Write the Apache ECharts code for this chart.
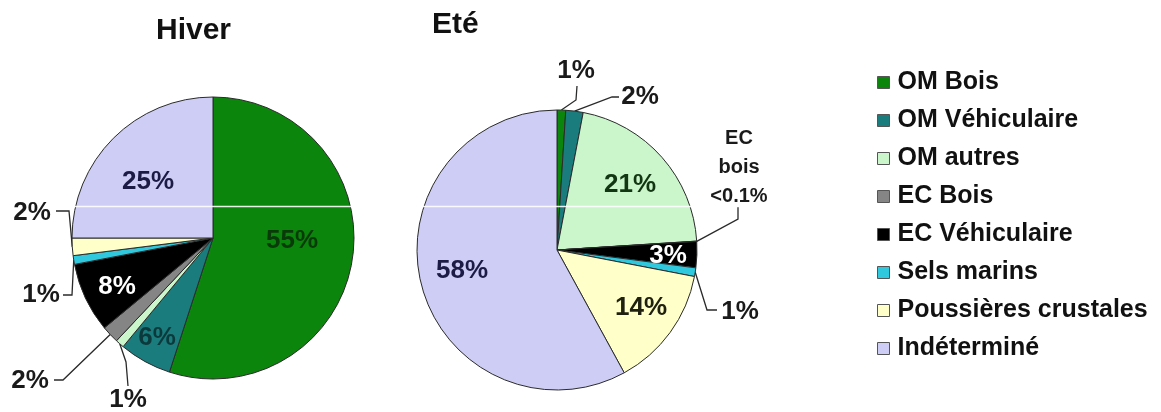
<!DOCTYPE html>
<html>
<head>
<meta charset="utf-8">
<style>
  html, body { margin: 0; padding: 0; background: #ffffff; }
  #chart { width: 1161px; height: 412px; }
</style>
<script src="https://cdn.jsdelivr.net/npm/echarts@6/dist/echarts.min.js"></script>
</head>
<body>
<div id="chart"></div>
<script>
// Aerosol source apportionment, winter vs summer (share of PM, %)
const categories = [
  'OM Bois', 'OM Véhiculaire', 'OM autres', 'EC Bois',
  'EC Véhiculaire', 'Sels marins', 'Poussières crustales', 'Indéterminé'
];
const hiverValues = [55, 6, 1, 2, 8, 1, 2, 25];
const eteValues = [1, 2, 21, 0.05, 3, 1, 14, 58];
const hiverLabels = ['55%', '6%', '1%', '2%', '8%', '1%', '2%', '25%'];
const eteLabels = ['1%', '2%', '21%', 'EC\nbois\n<0.1%', '3%', '1%', '14%', '58%'];

const colors = ['#0b850b', '#1b7c7e', '#cbf5cb', '#858585', '#000000', '#2fc8dc', '#ffffc9', '#cdcdf6'];
const FONT = '"Liberation Sans", Arial, sans-serif';

// Label placement: text centre and, for outside labels, the bend points of the leader line
const hiverLabelLayout = [
  { x: 292, y: 241, color: '#0a3a0a' },
  { x: 157, y: 338, color: '#0c3a3c' },
  { x: 128, y: 400, color: '#1a1a1a', line: [[126, 362], [128, 386]] },
  { x: 30, y: 381, color: '#1a1a1a', line: [[63, 380], [54, 380]] },
  { x: 117, y: 287, color: '#ffffff' },
  { x: 41, y: 295, color: '#1a1a1a', line: [[72, 295], [63, 295]] },
  { x: 32, y: 213, color: '#1a1a1a', line: [[69, 211], [56, 211]] },
  { x: 148, y: 182, color: '#1b1b45' }
];
const eteLabelLayout = [
  { x: 576, y: 71, color: '#1a1a1a', line: [[576, 100], [577, 86]] },
  { x: 640, y: 97, color: '#1a1a1a', line: [[612, 97], [619, 97]] },
  { x: 630, y: 185, color: '#123612' },
  { x: 739, y: 167, color: '#1a1a1a', small: true, line: [[738, 219], [738, 207]] },
  { x: 668, y: 256, color: '#ffffff' },
  { x: 740, y: 312, color: '#1a1a1a', line: [[707, 310], [717, 310]] },
  { x: 641, y: 308, color: '#202010' },
  { x: 462, y: 271, color: '#1b1b45' }
];

function buildData(values, texts, layout) {
  return categories.map((name, i) => ({
    name: name,
    value: values[i],
    itemStyle: { color: colors[i] },
    label: {
      formatter: texts[i],
      color: layout[i].color,
      fontSize: layout[i].small ? 20 : 26,
      lineHeight: layout[i].small ? 29 : 30
    },
    labelLine: { show: !!layout[i].line }
  }));
}

function labelLayoutFor(layout) {
  return function (params) {
    const cfg = layout[params.dataIndex];
    const out = { x: cfg.x, y: cfg.y, align: 'center', verticalAlign: 'middle' };
    if (cfg.line && params.labelLinePoints) {
      out.labelLinePoints = [params.labelLinePoints[0]].concat(cfg.line);
    }
    return out;
  };
}

function pieSeries(name, center, radius, values, texts, layout) {
  return {
    name: name,
    type: 'pie',
    center: center,
    radius: radius,
    startAngle: 90,
    clockwise: true,
    avoidLabelOverlap: false,
    animation: false,
    itemStyle: { borderColor: '#2b2b2b', borderWidth: 1 },
    label: {
      show: true,
      position: 'outside',
      fontFamily: FONT,
      fontWeight: 'bold'
    },
    labelLine: {
      show: true,
      length: 10,
      length2: 10,
      lineStyle: { color: '#2a2a2a', width: 1.3 }
    },
    labelLayout: labelLayoutFor(layout),
    emphasis: { disabled: true },
    data: buildData(values, texts, layout)
  };
}

const chart = echarts.init(document.getElementById('chart'), null, { renderer: 'canvas' });
chart.setOption({
  backgroundColor: '#ffffff',
  animation: false,
  title: [
    { text: 'Hiver', left: 156, top: 16, padding: 0,
      textStyle: { fontFamily: FONT, fontSize: 30, fontWeight: 'bold', color: '#111111' } },
    { text: 'Eté', left: 432, top: 10, padding: 0,
      textStyle: { fontFamily: FONT, fontSize: 30, fontWeight: 'bold', color: '#111111' } }
  ],
  legend: {
    orient: 'vertical',
    left: 877,
    top: 70,
    padding: 0,
    itemWidth: 12,
    itemHeight: 12,
    itemGap: 13,
    icon: 'rect',
    selectedMode: false,
    data: categories,
    itemStyle: { borderColor: '#555555', borderWidth: 1 },
    textStyle: { fontFamily: FONT, fontSize: 25, fontWeight: 'bold', color: '#111111', lineHeight: 25, padding: [0, 0, 0, 3] }
  },
  series: [
    pieSeries('Hiver', [213, 238], 141, hiverValues, hiverLabels, hiverLabelLayout),
    pieSeries('Eté', [557, 250], 140, eteValues, eteLabels, eteLabelLayout)
  ],
  graphic: [
    {
      type: 'line',
      z: 100,
      silent: true,
      shape: { x1: 60, y1: 206.5, x2: 780, y2: 206.5 },
      style: { stroke: '#ffffff', lineWidth: 1.5, opacity: 0.9 }
    }
  ]
});
</script>
</body>
</html>
